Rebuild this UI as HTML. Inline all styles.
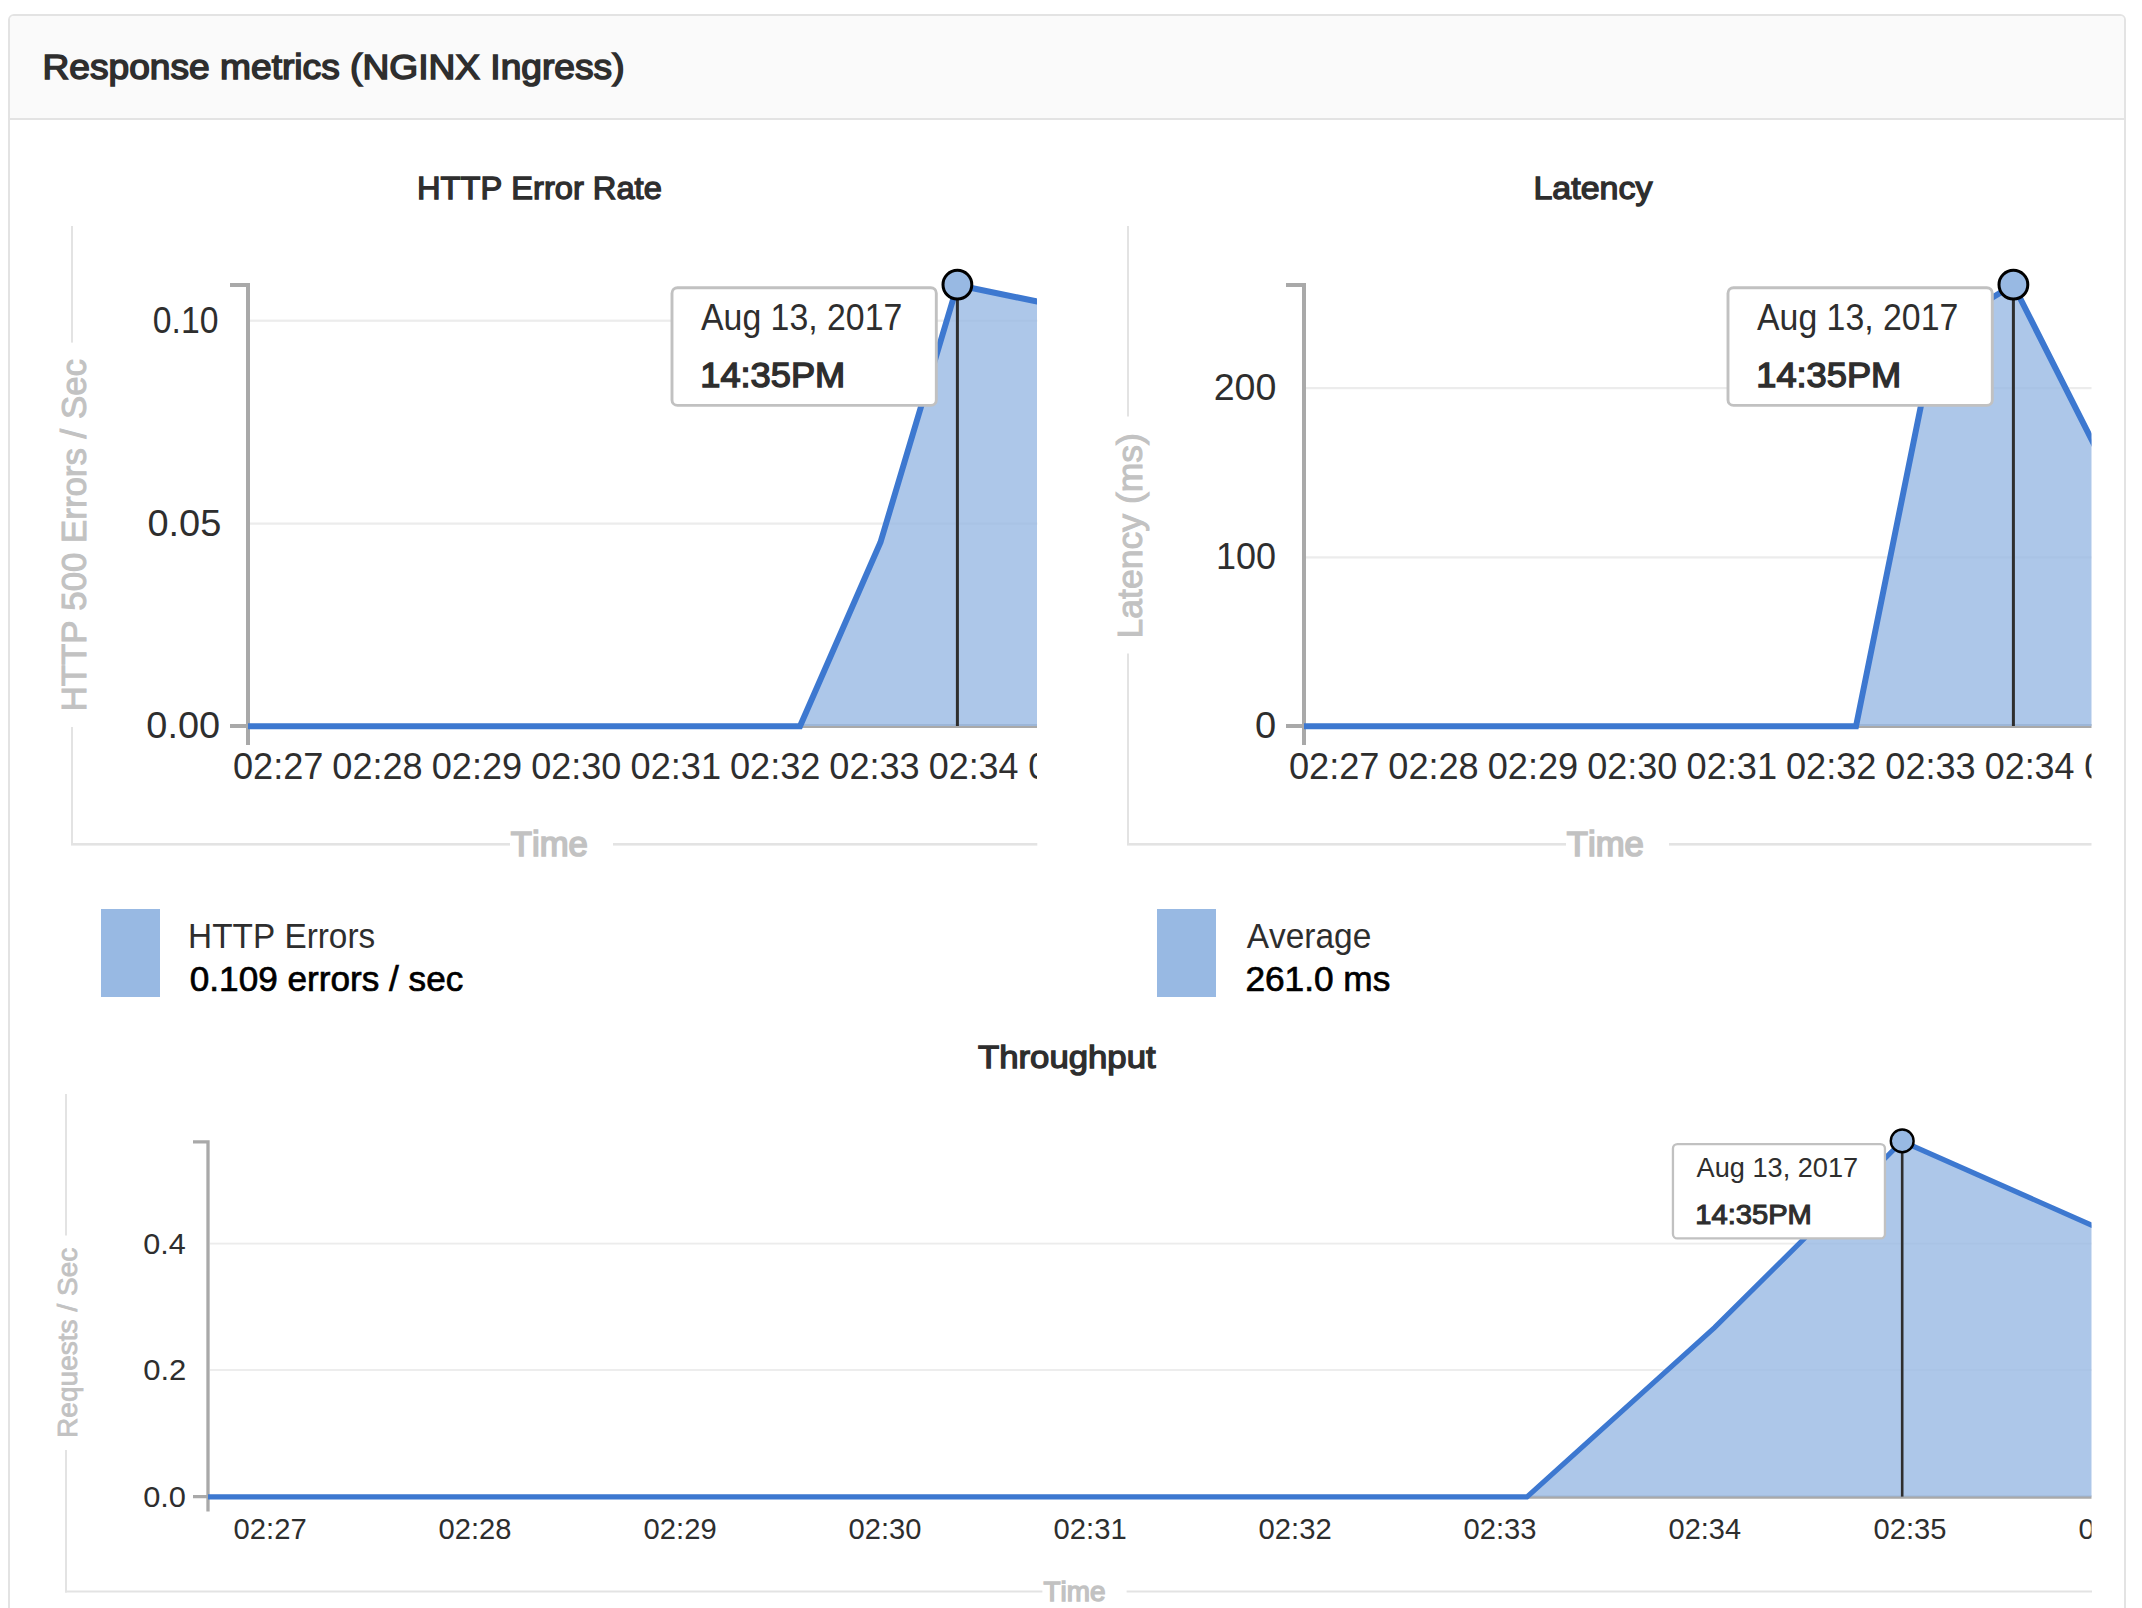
<!DOCTYPE html>
<html><head><meta charset="utf-8"><title>Response metrics</title>
<style>
html,body{margin:0;padding:0;background:#fff;width:2142px;height:1608px;overflow:hidden}
svg{display:block}
text{font-family:"Liberation Sans",sans-serif;font-kerning:none}
</style></head><body>
<svg width="2142" height="1608" viewBox="0 0 2142 1608">
<defs>
<clipPath id="c0"><rect x="0" y="200" width="1037" height="700"/></clipPath>
<clipPath id="c1056"><rect x="1056" y="200" width="1035.5" height="700"/></clipPath>
<clipPath id="ct"><rect x="0" y="1090" width="2091.5" height="518"/></clipPath>
</defs>
<rect x="9" y="15" width="2116" height="1700" rx="5" fill="#fff" stroke="#e3e3e3" stroke-width="2"/>
<path d="M10,118 V20 Q10,16 14,16 H2120 Q2124,16 2124,20 V118 Z" fill="#fafafa"/>
<rect x="10" y="118" width="2114" height="2" fill="#e3e3e3"/>
<text x="42.50" y="79.15" font-size="34.74" font-weight="normal" fill="#2e2e2e" textLength="582.05" lengthAdjust="spacingAndGlyphs" stroke="#2e2e2e" stroke-width="1.5">Response metrics (NGINX Ingress)</text>
<text x="416.97" y="199.35" font-size="31.54" font-weight="normal" fill="#2e2e2e" textLength="244.83" lengthAdjust="spacingAndGlyphs" stroke="#2e2e2e" stroke-width="1.3">HTTP Error Rate</text>
<rect x="71" y="226" width="2" height="116.6" fill="#e3e3e3"/>
<rect x="71" y="727.0" width="2" height="118.0" fill="#e3e3e3"/>
<rect x="71" y="843" width="439" height="2.6" fill="#e3e3e3"/>
<rect x="613" y="843" width="424.29999999999995" height="2.6" fill="#e3e3e3"/>
<text transform="rotate(-90)" x="-711.36" y="85.70" font-size="35.17" font-weight="normal" fill="#c2c2c2" textLength="352.28" lengthAdjust="spacingAndGlyphs" stroke="#c2c2c2" stroke-width="1.0">HTTP 500 Errors / Sec</text>
<text x="510.87" y="856.15" font-size="34.30" font-weight="normal" fill="#c2c2c2" textLength="77.02" lengthAdjust="spacingAndGlyphs" stroke="#c2c2c2" stroke-width="1.7">Time</text>
<rect x="250" y="319.60" width="787.3" height="2.2" fill="#ececec"/>
<rect x="250" y="522.50" width="787.3" height="2.2" fill="#ececec"/>
<g clip-path="url(#c0)">
<path d="M248,745 V726 H1100" stroke="#a9a9a9" stroke-width="4" fill="none"/>
</g>
<path d="M230,285 H248 V726 H230" stroke="#a9a9a9" stroke-width="4" fill="none"/>
<g clip-path="url(#c0)">
<path d="M248.0,726 L248.0,726.0 L800.0,726.0 L880.5,542.0 L957.4,284.7 L1036.0,301.0 L1100.0,313.0 L1100.0,726 Z" fill="#98b9e3" fill-opacity="0.8"/>
<path d="M248.0,726.0 L800.0,726.0 L880.5,542.0 L957.4,284.7 L1036.0,301.0 L1100.0,313.0" stroke="#3d78d0" stroke-width="6" fill="none" stroke-linejoin="miter" transform="translate(0,0.3)"/>
<text x="232.94" y="779.10" font-size="36.34" font-weight="normal" fill="#2e2e2e" textLength="90.53" lengthAdjust="spacingAndGlyphs">02:27</text>
<text x="332.34" y="779.10" font-size="36.34" font-weight="normal" fill="#2e2e2e" textLength="90.28" lengthAdjust="spacingAndGlyphs">02:28</text>
<text x="431.74" y="779.10" font-size="36.34" font-weight="normal" fill="#2e2e2e" textLength="90.42" lengthAdjust="spacingAndGlyphs">02:29</text>
<text x="531.14" y="779.10" font-size="36.34" font-weight="normal" fill="#2e2e2e" textLength="90.11" lengthAdjust="spacingAndGlyphs">02:30</text>
<text x="630.54" y="779.10" font-size="36.34" font-weight="normal" fill="#2e2e2e" textLength="90.48" lengthAdjust="spacingAndGlyphs">02:31</text>
<text x="729.94" y="779.10" font-size="36.34" font-weight="normal" fill="#2e2e2e" textLength="90.53" lengthAdjust="spacingAndGlyphs">02:32</text>
<text x="829.34" y="779.10" font-size="36.34" font-weight="normal" fill="#2e2e2e" textLength="90.30" lengthAdjust="spacingAndGlyphs">02:33</text>
<text x="928.75" y="779.10" font-size="36.34" font-weight="normal" fill="#2e2e2e" textLength="89.75" lengthAdjust="spacingAndGlyphs">02:34</text>
<text x="1028.14" y="779.10" font-size="36.34" font-weight="normal" fill="#2e2e2e" textLength="90.22" lengthAdjust="spacingAndGlyphs">02:35</text>
</g>
<text x="152.78" y="332.70" font-size="36.63" font-weight="normal" fill="#2e2e2e" textLength="65.63" lengthAdjust="spacingAndGlyphs">0.10</text>
<text x="147.42" y="535.60" font-size="36.63" font-weight="normal" fill="#2e2e2e" textLength="73.88" lengthAdjust="spacingAndGlyphs">0.05</text>
<text x="146.32" y="738.00" font-size="36.63" font-weight="normal" fill="#2e2e2e" textLength="73.76" lengthAdjust="spacingAndGlyphs">0.00</text>
<rect x="955.9" y="285" width="3" height="441" fill="#2e2e2e"/>
<circle cx="957.4" cy="284.7" r="14.4" fill="#98b9e3" stroke="#000" stroke-width="3"/>
<rect x="672" y="287.75" width="264.3" height="117.65" rx="5.5" fill="#fff" stroke="#c1c1c1" stroke-width="2.9"/>
<text x="701.03" y="329.90" font-size="36.34" font-weight="normal" fill="#2e2e2e" textLength="201.27" lengthAdjust="spacingAndGlyphs">Aug 13, 2017</text>
<text x="700.24" y="387.40" font-size="34.59" font-weight="normal" fill="#2e2e2e" textLength="145.03" lengthAdjust="spacingAndGlyphs" stroke="#2e2e2e" stroke-width="1.4">14:35PM</text>
<rect x="101" y="909" width="59" height="88" fill="#98b9e3"/>
<text x="188.06" y="947.80" font-size="35.61" font-weight="normal" fill="#2e2e2e" textLength="187.14" lengthAdjust="spacingAndGlyphs">HTTP Errors</text>
<text x="189.78" y="991.25" font-size="35.32" font-weight="normal" fill="#000" textLength="273.50" lengthAdjust="spacingAndGlyphs" stroke="#000" stroke-width="0.7">0.109 errors / sec</text>
<text x="1533.46" y="199.35" font-size="31.54" font-weight="normal" fill="#2e2e2e" textLength="118.95" lengthAdjust="spacingAndGlyphs" stroke="#2e2e2e" stroke-width="1.3">Latency</text>
<rect x="1127" y="226" width="2" height="190.5" fill="#e3e3e3"/>
<rect x="1127" y="653.5" width="2" height="191.5" fill="#e3e3e3"/>
<rect x="1127" y="843" width="439" height="2.6" fill="#e3e3e3"/>
<rect x="1669" y="843" width="422.5" height="2.6" fill="#e3e3e3"/>
<text transform="rotate(-90)" x="-638.41" y="1141.70" font-size="35.17" font-weight="normal" fill="#c2c2c2" textLength="205.32" lengthAdjust="spacingAndGlyphs" stroke="#c2c2c2" stroke-width="1.0">Latency (ms)</text>
<text x="1566.87" y="856.15" font-size="34.30" font-weight="normal" fill="#c2c2c2" textLength="77.02" lengthAdjust="spacingAndGlyphs" stroke="#c2c2c2" stroke-width="1.7">Time</text>
<rect x="1306" y="387.00" width="785.5" height="2.2" fill="#ececec"/>
<rect x="1306" y="556.30" width="785.5" height="2.2" fill="#ececec"/>
<g clip-path="url(#c1056)">
<path d="M1304,745 V726 H2156" stroke="#a9a9a9" stroke-width="4" fill="none"/>
</g>
<path d="M1286,285 H1304 V726 H1286" stroke="#a9a9a9" stroke-width="4" fill="none"/>
<g clip-path="url(#c1056)">
<path d="M1304.0,726 L1304.0,726.0 L1856.0,726.0 L1936.0,331.0 L2013.4,284.7 L2092.0,440.0 L2156.0,566.0 L2156.0,726 Z" fill="#98b9e3" fill-opacity="0.8"/>
<path d="M1304.0,726.0 L1856.0,726.0 L1936.0,331.0 L2013.4,284.7 L2092.0,440.0 L2156.0,566.0" stroke="#3d78d0" stroke-width="6" fill="none" stroke-linejoin="miter" transform="translate(0,0.3)"/>
<text x="1288.94" y="779.10" font-size="36.34" font-weight="normal" fill="#2e2e2e" textLength="90.53" lengthAdjust="spacingAndGlyphs">02:27</text>
<text x="1388.34" y="779.10" font-size="36.34" font-weight="normal" fill="#2e2e2e" textLength="90.28" lengthAdjust="spacingAndGlyphs">02:28</text>
<text x="1487.74" y="779.10" font-size="36.34" font-weight="normal" fill="#2e2e2e" textLength="90.42" lengthAdjust="spacingAndGlyphs">02:29</text>
<text x="1587.14" y="779.10" font-size="36.34" font-weight="normal" fill="#2e2e2e" textLength="90.11" lengthAdjust="spacingAndGlyphs">02:30</text>
<text x="1686.54" y="779.10" font-size="36.34" font-weight="normal" fill="#2e2e2e" textLength="90.48" lengthAdjust="spacingAndGlyphs">02:31</text>
<text x="1785.94" y="779.10" font-size="36.34" font-weight="normal" fill="#2e2e2e" textLength="90.53" lengthAdjust="spacingAndGlyphs">02:32</text>
<text x="1885.34" y="779.10" font-size="36.34" font-weight="normal" fill="#2e2e2e" textLength="90.30" lengthAdjust="spacingAndGlyphs">02:33</text>
<text x="1984.75" y="779.10" font-size="36.34" font-weight="normal" fill="#2e2e2e" textLength="89.75" lengthAdjust="spacingAndGlyphs">02:34</text>
<text x="2084.14" y="779.10" font-size="36.34" font-weight="normal" fill="#2e2e2e" textLength="90.22" lengthAdjust="spacingAndGlyphs">02:35</text>
</g>
<text x="1213.71" y="400.10" font-size="36.63" font-weight="normal" fill="#2e2e2e" textLength="62.66" lengthAdjust="spacingAndGlyphs">200</text>
<text x="1215.96" y="569.40" font-size="36.63" font-weight="normal" fill="#2e2e2e" textLength="60.05" lengthAdjust="spacingAndGlyphs">100</text>
<text x="1254.91" y="738.00" font-size="36.63" font-weight="normal" fill="#2e2e2e" textLength="21.17" lengthAdjust="spacingAndGlyphs">0</text>
<rect x="2011.9" y="285" width="3" height="441" fill="#2e2e2e"/>
<circle cx="2013.4" cy="284.7" r="14.4" fill="#98b9e3" stroke="#000" stroke-width="3"/>
<rect x="1728" y="287.75" width="264.3" height="117.65" rx="5.5" fill="#fff" stroke="#c1c1c1" stroke-width="2.9"/>
<text x="1757.03" y="329.90" font-size="36.34" font-weight="normal" fill="#2e2e2e" textLength="201.27" lengthAdjust="spacingAndGlyphs">Aug 13, 2017</text>
<text x="1756.24" y="387.40" font-size="34.59" font-weight="normal" fill="#2e2e2e" textLength="145.03" lengthAdjust="spacingAndGlyphs" stroke="#2e2e2e" stroke-width="1.4">14:35PM</text>
<rect x="1157" y="909" width="59" height="88" fill="#98b9e3"/>
<text x="1246.73" y="947.80" font-size="35.61" font-weight="normal" fill="#2e2e2e" textLength="124.55" lengthAdjust="spacingAndGlyphs">Average</text>
<text x="1245.38" y="991.25" font-size="35.32" font-weight="normal" fill="#000" textLength="144.95" lengthAdjust="spacingAndGlyphs" stroke="#000" stroke-width="0.7">261.0 ms</text>
<text x="978.07" y="1068.45" font-size="31.98" font-weight="normal" fill="#2e2e2e" textLength="177.53" lengthAdjust="spacingAndGlyphs" stroke="#2e2e2e" stroke-width="1.3">Throughput</text>
<rect x="65" y="1094" width="2" height="141.5" fill="#e3e3e3"/>
<rect x="65" y="1450" width="2" height="142.5" fill="#e3e3e3"/>
<rect x="65" y="1590.5" width="977.4000000000001" height="2" fill="#e3e3e3"/>
<rect x="1126.6" y="1590.5" width="965.4000000000001" height="2" fill="#e3e3e3"/>
<text transform="rotate(-90)" x="-1437.90" y="77.30" font-size="27.91" font-weight="normal" fill="#c2c2c2" textLength="190.24" lengthAdjust="spacingAndGlyphs" stroke="#c2c2c2" stroke-width="0.8">Requests / Sec</text>
<text x="1043.57" y="1600.70" font-size="26.74" font-weight="normal" fill="#c2c2c2" textLength="61.97" lengthAdjust="spacingAndGlyphs" stroke="#c2c2c2" stroke-width="1.4">Time</text>
<rect x="210" y="1242.7" width="1881.5" height="1.8" fill="#ececec"/>
<rect x="210" y="1369.1" width="1881.5" height="1.8" fill="#ececec"/>
<g clip-path="url(#ct)">
<path d="M208,1511.4 V1497.2 H2150" stroke="#a9a9a9" stroke-width="3.3" fill="none"/>
<path d="M193,1141.9 H208 V1496.6 H193" stroke="#a9a9a9" stroke-width="3.3" fill="none"/>
<path d="M208,1496.6 L208.0,1496.6 L1527.0,1496.6 L1714.5,1327.3 L1902.2,1141.0 L2092.0,1225.0 L2150.0,1251.0 L2150,1496.6 Z" fill="#98b9e3" fill-opacity="0.8"/>
<path d="M208.0,1496.6 L1527.0,1496.6 L1714.5,1327.3 L1902.2,1141.0 L2092.0,1225.0 L2150.0,1251.0" stroke="#3d78d0" stroke-width="5.1" fill="none" transform="translate(0,0.3)"/>
<text x="233.61" y="1539.20" font-size="29.07" font-weight="normal" fill="#2e2e2e" textLength="73.11" lengthAdjust="spacingAndGlyphs">02:27</text>
<text x="438.61" y="1539.20" font-size="29.07" font-weight="normal" fill="#2e2e2e" textLength="72.90" lengthAdjust="spacingAndGlyphs">02:28</text>
<text x="643.61" y="1539.20" font-size="29.07" font-weight="normal" fill="#2e2e2e" textLength="73.02" lengthAdjust="spacingAndGlyphs">02:29</text>
<text x="848.61" y="1539.20" font-size="29.07" font-weight="normal" fill="#2e2e2e" textLength="72.77" lengthAdjust="spacingAndGlyphs">02:30</text>
<text x="1053.61" y="1539.20" font-size="29.07" font-weight="normal" fill="#2e2e2e" textLength="73.07" lengthAdjust="spacingAndGlyphs">02:31</text>
<text x="1258.61" y="1539.20" font-size="29.07" font-weight="normal" fill="#2e2e2e" textLength="73.11" lengthAdjust="spacingAndGlyphs">02:32</text>
<text x="1463.61" y="1539.20" font-size="29.07" font-weight="normal" fill="#2e2e2e" textLength="72.92" lengthAdjust="spacingAndGlyphs">02:33</text>
<text x="1668.62" y="1539.20" font-size="29.07" font-weight="normal" fill="#2e2e2e" textLength="72.48" lengthAdjust="spacingAndGlyphs">02:34</text>
<text x="1873.61" y="1539.20" font-size="29.07" font-weight="normal" fill="#2e2e2e" textLength="72.86" lengthAdjust="spacingAndGlyphs">02:35</text>
<text x="2078.61" y="1539.20" font-size="29.07" font-weight="normal" fill="#2e2e2e" textLength="72.92" lengthAdjust="spacingAndGlyphs">02:36</text>
</g>
<text x="143.21" y="1253.60" font-size="29.07" font-weight="normal" fill="#2e2e2e" textLength="42.49" lengthAdjust="spacingAndGlyphs">0.4</text>
<text x="143.19" y="1380.00" font-size="29.07" font-weight="normal" fill="#2e2e2e" textLength="43.18" lengthAdjust="spacingAndGlyphs">0.2</text>
<text x="143.20" y="1506.60" font-size="29.07" font-weight="normal" fill="#2e2e2e" textLength="42.81" lengthAdjust="spacingAndGlyphs">0.0</text>
<rect x="1900.9" y="1141" width="2.6" height="355.6" fill="#2e2e2e"/>
<circle cx="1902.2" cy="1140.9" r="11.4" fill="#98b9e3" stroke="#000" stroke-width="2.4"/>
<rect x="1672.95" y="1144.05" width="212" height="94.4" rx="4.5" fill="#fff" stroke="#c1c1c1" stroke-width="2.3"/>
<text x="1696.55" y="1176.70" font-size="28.34" font-weight="normal" fill="#2e2e2e" textLength="161.62" lengthAdjust="spacingAndGlyphs">Aug 13, 2017</text>
<text x="1695.33" y="1223.95" font-size="27.33" font-weight="normal" fill="#2e2e2e" textLength="116.51" lengthAdjust="spacingAndGlyphs" stroke="#2e2e2e" stroke-width="1.1">14:35PM</text>
</svg>
</body></html>
